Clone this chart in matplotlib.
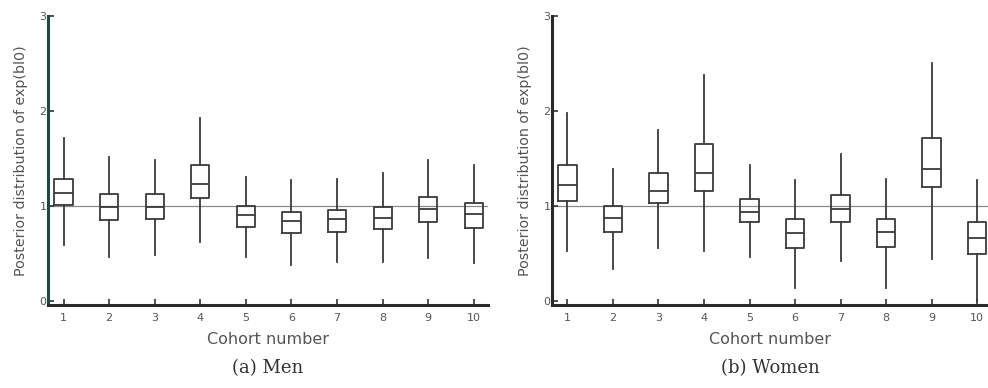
import matplotlib
matplotlib.use("Agg")
from matplotlib import pyplot as plt

cohorts = [1, 2, 3, 4, 5, 6, 7, 8, 9, 10]

# men: whisker low, q1, median, q3, whisker high
men_low = [0.59, 0.46, 0.49, 0.62, 0.46, 0.38, 0.41, 0.41, 0.45, 0.40]
men_q1 = [1.01, 0.85, 0.86, 1.09, 0.78, 0.72, 0.73, 0.76, 0.83, 0.77]
men_med = [1.14, 0.99, 0.99, 1.23, 0.91, 0.84, 0.86, 0.88, 0.97, 0.92]
men_q3 = [1.29, 1.13, 1.13, 1.43, 1.00, 0.94, 0.96, 0.99, 1.10, 1.03]
men_high = [1.72, 1.52, 1.49, 1.93, 1.31, 1.27, 1.29, 1.35, 1.49, 1.43]

# women
women_low = [0.53, 0.34, 0.56, 0.53, 0.46, 0.14, 0.42, 0.14, 0.44, 0.0]
women_q1 = [1.05, 0.73, 1.03, 1.16, 0.83, 0.56, 0.83, 0.57, 1.20, 0.50]
women_med = [1.22, 0.87, 1.16, 1.35, 0.94, 0.72, 0.97, 0.73, 1.39, 0.67]
women_q3 = [1.43, 1.00, 1.35, 1.65, 1.08, 0.86, 1.12, 0.86, 1.72, 0.83]
women_high = [1.98, 1.39, 1.80, 2.38, 1.43, 1.27, 1.55, 1.29, 2.51, 1.28]

line_col = "#3a3a3a"
text_col = "#555555"


def make_stats(low, q1, med, q3, high):
    stats = []
    for i in range(len(cohorts)):
        stats.append(dict(whislo=low[i], q1=q1[i], med=med[i], q3=q3[i],
                          whishi=high[i], fliers=[], label=str(cohorts[i])))
    return stats


def draw_panel(ax, stats, caption, xmax, spine_col):
    ax.axhline(1, color="#8a8a8a", lw=0.9, zorder=1)
    lp = dict(color=line_col, lw=1.3)
    ax.bxp(stats, positions=cohorts, widths=0.4, showcaps=False,
           boxprops=lp, whiskerprops=lp, medianprops=lp,
           showfliers=False, zorder=2)
    ax.set_xlim(0.66, xmax)
    ax.set_ylim(-0.04, 3)
    ax.set_yticks([0, 1, 2, 3])
    ax.set_xticks(cohorts)
    ax.set_xticklabels([str(c) for c in cohorts])
    for s in ["top", "right"]:
        ax.spines[s].set_visible(False)
    ax.spines["left"].set_color(spine_col)
    ax.spines["left"].set_linewidth(2.2)
    ax.spines["bottom"].set_color("#2a2a2a")
    ax.spines["bottom"].set_linewidth(2.2)
    ax.tick_params(direction="in", length=4, width=1.2, color="#333333",
                   labelsize=8, labelcolor=text_col, pad=6)
    ax.tick_params(axis="y", pad=1)
    ax.set_xlabel("Cohort number", fontsize=11.5, color=text_col, labelpad=6)
    ax.set_ylabel("Posterior distribution of exp(bl0)", fontsize=10.3,
                  color=text_col, labelpad=8)
    # caption below the panel
    bb = ax.get_position()
    fig.text(bb.x0 + bb.width / 2, 1 - 368 / 388, caption, ha="center",
             va="center", fontsize=13, family="DejaVu Serif", color="#333333")


fig = plt.figure(figsize=(9.88, 3.88), dpi=100)
ax1 = fig.add_axes([48 / 988, 1 - 305 / 388, 440 / 988, 289 / 388])
ax2 = fig.add_axes([552 / 988, 1 - 305 / 388, 436 / 988, 289 / 388])

draw_panel(ax1, make_stats(men_low, men_q1, men_med, men_q3, men_high),
           "(a) Men", 10.31, "#1f4a44")
draw_panel(ax2, make_stats(women_low, women_q1, women_med, women_q3, women_high),
           "(b) Women", 10.24, "#2a2a2a")

fig.savefig("out.png", dpi=100)
